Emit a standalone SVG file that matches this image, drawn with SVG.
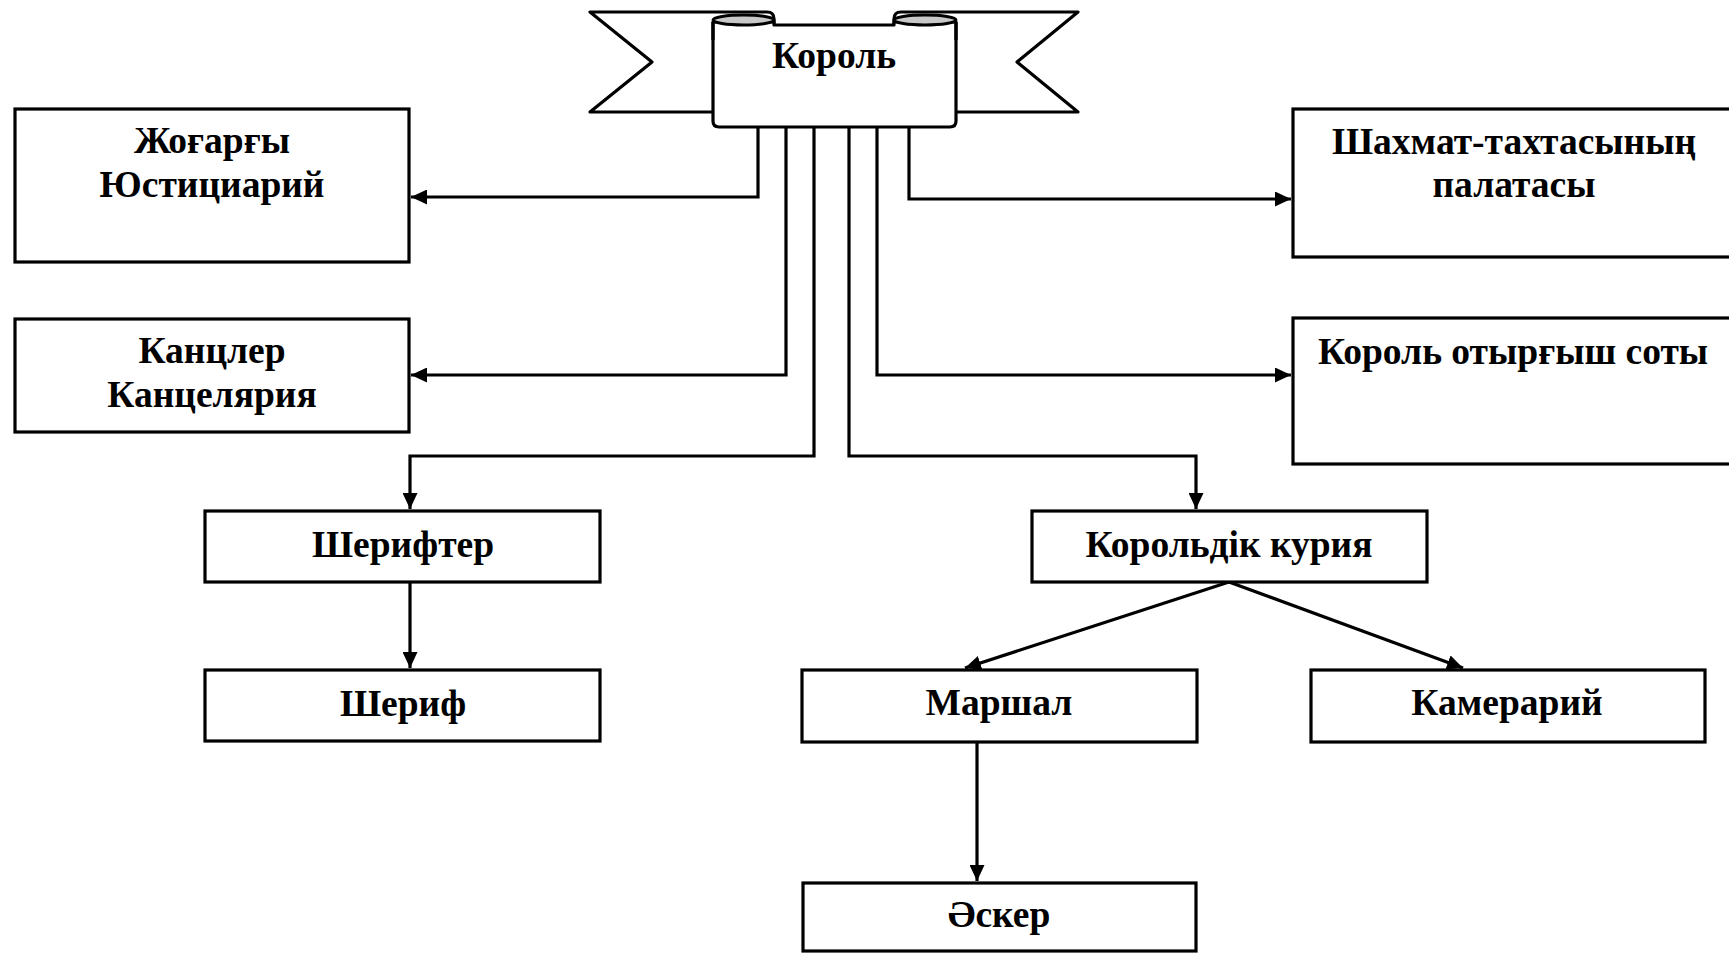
<svg xmlns="http://www.w3.org/2000/svg" width="1729" height="954" viewBox="0 0 1729 954">
<defs>
<style>
.box{fill:#fff;stroke:#000;stroke-width:3.2}
.t{font-family:"Liberation Serif","Times New Roman",serif;font-weight:bold;font-size:37.5px;fill:#000;text-anchor:middle}
.c{fill:none;stroke:#000;stroke-width:3.2}
.rib{fill:#fff;stroke:#000;stroke-width:3.2;stroke-linejoin:round}
.curl{fill:#c8c8c8;stroke:#000;stroke-width:3}
</style>
<marker id="ah" markerUnits="userSpaceOnUse" markerWidth="17" markerHeight="15" refX="16" refY="7.5" orient="auto">
<path d="M0,0 L16,7.5 L0,15 z" fill="#000"/>
</marker>
</defs>
<rect width="1729" height="954" fill="#fff"/>

<g id="connectors">
<path class="c" d="M758,128 V197 H411" marker-end="url(#ah)"/>
<path class="c" d="M786,128 V375 H411" marker-end="url(#ah)"/>
<path class="c" d="M814,128 V456 H410 V509" marker-end="url(#ah)"/>
<path class="c" d="M849,128 V456 H1196 V509" marker-end="url(#ah)"/>
<path class="c" d="M877,128 V375 H1291" marker-end="url(#ah)"/>
<path class="c" d="M909,128 V199 H1291" marker-end="url(#ah)"/>
<path class="c" d="M1229,582 L965,668" marker-end="url(#ah)"/>
<path class="c" d="M1229,582 L1463,668" marker-end="url(#ah)"/>
<path class="c" d="M410,582 V668" marker-end="url(#ah)"/>
<path class="c" d="M977,742 V881" marker-end="url(#ah)"/>
</g>

<g id="korol">
<path class="rib" d="M713,112 L590,112 L652,62 L590,12 L767,12 Q774,12 774,19 L774,30"/>
<path class="rib" d="M956,112 L1078,112 L1017,62 L1078,12 L901,12 Q894,12 894,19 L894,30"/>
<path class="rib" d="M713,22 L713,121 Q713,127 719,127 L950,127 Q956,127 956,121 L956,22 L894,22 L894,25 L774,25 L774,22 Z"/>
<ellipse class="curl" cx="743.5" cy="20" rx="30.5" ry="5"/>
<ellipse class="curl" cx="925" cy="20" rx="31" ry="5"/>
<path d="M713,22 L713,40 M956,22 L956,40" stroke="#000" stroke-width="3.2" fill="none"/>
<text class="t" x="834" y="68">Король</text>
</g>

<g id="jogargy">
<rect class="box" x="15" y="109" width="394" height="153"/>
<text class="t" x="212" y="153">Жоғарғы</text>
<text class="t" x="212" y="197">Юстициарий</text>
</g>

<g id="kancler">
<rect class="box" x="15" y="319" width="394" height="113"/>
<text class="t" x="212" y="363">Канцлер</text>
<text class="t" x="212" y="407">Канцелярия</text>
</g>

<g id="shahmat">
<rect class="box" x="1293" y="109" width="445" height="148"/>
<text class="t" x="1514" y="154">Шахмат-тахтасының</text>
<text class="t" x="1514" y="197">палатасы</text>
</g>

<g id="otyrgysh">
<rect class="box" x="1293" y="318" width="445" height="146"/>
<text class="t" x="1513" y="364">Король отырғыш соты</text>
</g>

<g id="sherifter">
<rect class="box" x="205" y="511" width="395" height="71"/>
<text class="t" x="403" y="557">Шерифтер</text>
</g>

<g id="sherif">
<rect class="box" x="205" y="670" width="395" height="71"/>
<text class="t" x="403" y="716">Шериф</text>
</g>

<g id="kuria">
<rect class="box" x="1032" y="511" width="395" height="71"/>
<text class="t" x="1229" y="557">Корольдік курия</text>
</g>

<g id="marshal">
<rect class="box" x="802" y="670" width="395" height="72"/>
<text class="t" x="999" y="715">Маршал</text>
</g>

<g id="kamerari">
<rect class="box" x="1311" y="670" width="394" height="72"/>
<text class="t" x="1507" y="715">Камерарий</text>
</g>

<g id="asker">
<rect class="box" x="803" y="883" width="393" height="68"/>
<text class="t" x="999" y="927">Әскер</text>
</g>
</svg>
